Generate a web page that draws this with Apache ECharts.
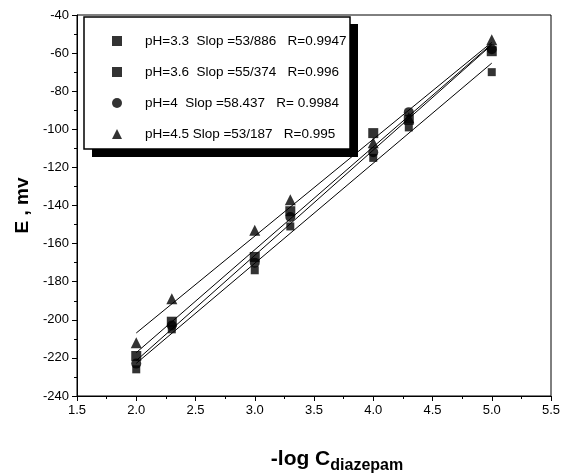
<!DOCTYPE html>
<html>
<head>
<meta charset="utf-8">
<script src="https://cdn.jsdelivr.net/npm/echarts@6/dist/echarts.min.js"></script>
<style>
    html,body{margin:0;padding:0;background:#fff;}
    #chart{width:564px;height:476px;}
</style>
</head>
<body>
<div id="chart"></div>
<script>
// -log C values
const xVals = [2.0, 2.3, 3.0, 3.3, 4.0, 4.3, 5.0];
// E (mv) for each pH
const ph33 = [-219, -201, -167, -143, -102, -95, -59];
const ph36 = [-226, -205, -174, -151, -115, -99, -70];
const ph40 = [-223, -203, -170, -146, -112, -91, -58];
const ph45 = [-212, -189, -153, -137, -107, -94, -53];
const seriesNames = [
    'pH=3.3  Slop =53/886   R=0.9947',
    'pH=3.6  Slop =55/374   R=0.996',
    'pH=4  Slop =58.437   R= 0.9984',
    'pH=4.5 Slop =53/187   R=0.995'
];
const symbols = ['rect', 'rect', 'circle', 'triangle'];
const symbolSizes = [10, 8, 10, 11];
const xTickMin = 1.5, xTickMax = 5.5, xTickStep = 0.5;
const yTickMin = -240, yTickMax = -40, yTickStep = 20;

const font = 'Arial, "Liberation Sans", sans-serif';

// least squares fit, drawn from first to last x
function fitLine(xs, ys) {
    let n = xs.length, sx = 0, sy = 0, sxx = 0, sxy = 0;
    for (let i = 0; i < n; i++) {
        sx += xs[i]; sy += ys[i]; sxx += xs[i] * xs[i]; sxy += xs[i] * ys[i];
    }
    let b = (n * sxy - sx * sy) / (n * sxx - sx * sx);
    let a = (sy - b * sx) / n;
    let x0 = xs[0], x1 = xs[n - 1];
    return [[x0, a + b * x0], [x1, a + b * x1]];
}

let allData = [ph33, ph36, ph40, ph45];
let series = [];
allData.forEach((ys, i) => {
    series.push({
        name: seriesNames[i],
        type: 'scatter',
        symbol: symbols[i],
        symbolSize: symbolSizes[i],
        itemStyle: {color: '#000'},
        data: xVals.map((x, j) => [x, ys[j]]),
        z: 3
    });
    series.push({
        name: 'fit' + i,
        type: 'line',
        showSymbol: false,
        silent: true,
        lineStyle: {color: '#000', width: 1},
        data: fitLine(xVals, ys),
        z: 2
    });
});

let chart = echarts.init(document.getElementById('chart'));
let option = {
    animation: false,
    backgroundColor: '#fff',
    grid: {
        left: 77, right: 13, top: 15, bottom: 80,
        containLabel: false,
        outerBoundsMode: 'none',
        show: true, borderColor: '#000', borderWidth: 1
    },
    xAxis: {
        type: 'value',
        min: xTickMin, max: xTickMax, interval: xTickStep,
        name: '{a|-log C}{b|diazepam}',
        nameLocation: 'middle',
        nameGap: 53,
        nameTextStyle: {
            padding: [0, 0, 0, 46],
            rich: {
                a: {fontSize: 21, fontWeight: 'bold', fontFamily: font, color: '#000', lineHeight: 22, verticalAlign: 'top'},
                b: {fontSize: 16, fontWeight: 'bold', fontFamily: font, color: '#000', lineHeight: 16, verticalAlign: 'top', padding: [9, 0, 0, 0]}
            }
        },
        axisLine: {show: true, onZero: false, lineStyle: {color: '#000', width: 1}},
        axisTick: {show: true, length: 5, lineStyle: {color: '#000'}},
        minorTick: {show: true, splitNumber: 2, length: 3, lineStyle: {color: '#000'}},
        splitLine: {show: false},
        axisLabel: {
            color: '#000', fontSize: 13, fontFamily: font, margin: 8,
            formatter: v => v.toFixed(1)
        }
    },
    yAxis: {
        type: 'value',
        min: yTickMin, max: yTickMax, interval: yTickStep,
        name: 'E , mv',
        nameLocation: 'middle',
        nameGap: 45,
        nameTextStyle: {fontSize: 19, fontWeight: 'bold', fontFamily: font, color: '#000'},
        axisLine: {show: true, onZero: false, lineStyle: {color: '#000', width: 1}},
        axisTick: {show: true, length: 5, lineStyle: {color: '#000'}},
        minorTick: {show: true, splitNumber: 2, length: 3, lineStyle: {color: '#000'}},
        splitLine: {show: false},
        axisLabel: {color: '#000', fontSize: 13, fontFamily: font, margin: 8}
    },
    legend: {
        orient: 'vertical',
        left: 112, top: 33,
        padding: 0,
        itemGap: 15,
        itemWidth: 10, itemHeight: 10,
        selectedMode: false,
        z: 10,
        data: seriesNames.map((n, i) => ({name: n, icon: symbols[i]})),
        textStyle: {color: '#000', fontSize: 13.5, fontFamily: font, lineHeight: 16, padding: [0, 0, 0, 18]}
    },
    graphic: [
        // legend box shadow
        {type: 'rect', z: 5, shape: {x: 92, y: 24, width: 266, height: 133}, style: {fill: '#000'}},
        {type: 'rect', z: 6, shape: {x: 84, y: 17, width: 266, height: 132}, style: {fill: '#fff', stroke: '#000', lineWidth: 1.5}}
    ],
    series: series
};
chart.setOption(option);
</script>
</body>
</html>
